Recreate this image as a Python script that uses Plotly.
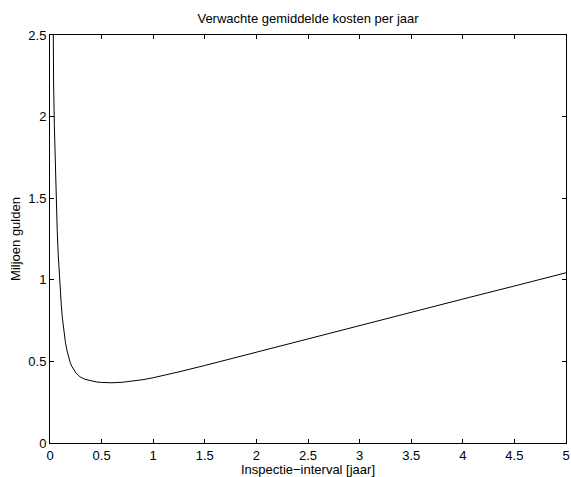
import plotly.graph_objects as go

# Data
interval_jaar = [0.02, 0.029, 0.035, 0.042, 0.05, 0.061, 0.07, 0.08, 0.09, 0.1,
                 0.11, 0.12, 0.135, 0.15, 0.165, 0.18, 0.195, 0.21, 0.23, 0.25,
                 0.275, 0.3, 0.34, 0.4, 0.45, 0.5, 0.6, 0.7, 0.8, 0.9,
                 1.0, 1.1, 1.25, 1.5, 1.75, 2.0, 2.5, 3.0, 3.5, 4.0,
                 4.5, 5.0]
kosten_miljoen = [3.6, 2.5, 2.2, 1.95, 1.72, 1.47, 1.3, 1.15, 1.02, 0.93,
                  0.84, 0.765, 0.68, 0.615, 0.565, 0.525, 0.495, 0.472, 0.448, 0.43,
                  0.414, 0.402, 0.39, 0.379, 0.374, 0.371, 0.369, 0.372, 0.379, 0.388,
                  0.40, 0.414, 0.436, 0.475, 0.516, 0.557, 0.638, 0.72, 0.801, 0.882,
                  0.962, 1.043]

x_ticks = [0, 0.5, 1, 1.5, 2, 2.5, 3, 3.5, 4, 4.5, 5]
x_ticklabels = ["0", "0.5", "1", "1.5", "2", "2.5", "3", "3.5", "4", "4.5", "5"]
y_ticks = [0, 0.5, 1, 1.5, 2, 2.5]
y_ticklabels = ["0", "0.5", "1", "1.5", "2", "2.5"]

title_text = "Verwachte gemiddelde kosten per jaar"
x_title = "Inspectie\u2212interval [jaar]"
y_title = "Miljoen gulden"

font = dict(family="Liberation Sans, Arial, sans-serif", size=13, color="black")

fig = go.Figure()
fig.add_trace(go.Scatter(
    x=interval_jaar, y=kosten_miljoen, mode="lines",
    line=dict(color="black", width=1),
    showlegend=False, hoverinfo="skip",
))

axis_common = dict(
    showline=True, linecolor="black", linewidth=1, mirror="ticks",
    ticks="inside", ticklen=4, tickcolor="black", tickwidth=1,
    showgrid=False, zeroline=False, tickfont=font, automargin=False,
)

fig.update_layout(
    width=571, height=477,
    margin=dict(l=50, r=5, t=35, b=34),
    paper_bgcolor="white", plot_bgcolor="white",
    font=font,
    title=dict(text=title_text, x=(50 + 566) / 2 / 571, xanchor="center",
               y=1 - 18 / 477, yanchor="middle", font=font),
    xaxis=dict(range=[0, 5], tickvals=x_ticks, ticktext=x_ticklabels,
               title=dict(text=x_title, standoff=0, font=font), **axis_common),
    yaxis=dict(range=[0, 2.5], tickvals=y_ticks, ticktext=y_ticklabels,
               title=dict(text=y_title, standoff=4, font=font), **axis_common),
)

fig.write_html("out.html", config={"displayModeBar": False},
               post_script="document.body.style.margin='0';document.body.style.overflow='hidden';")
